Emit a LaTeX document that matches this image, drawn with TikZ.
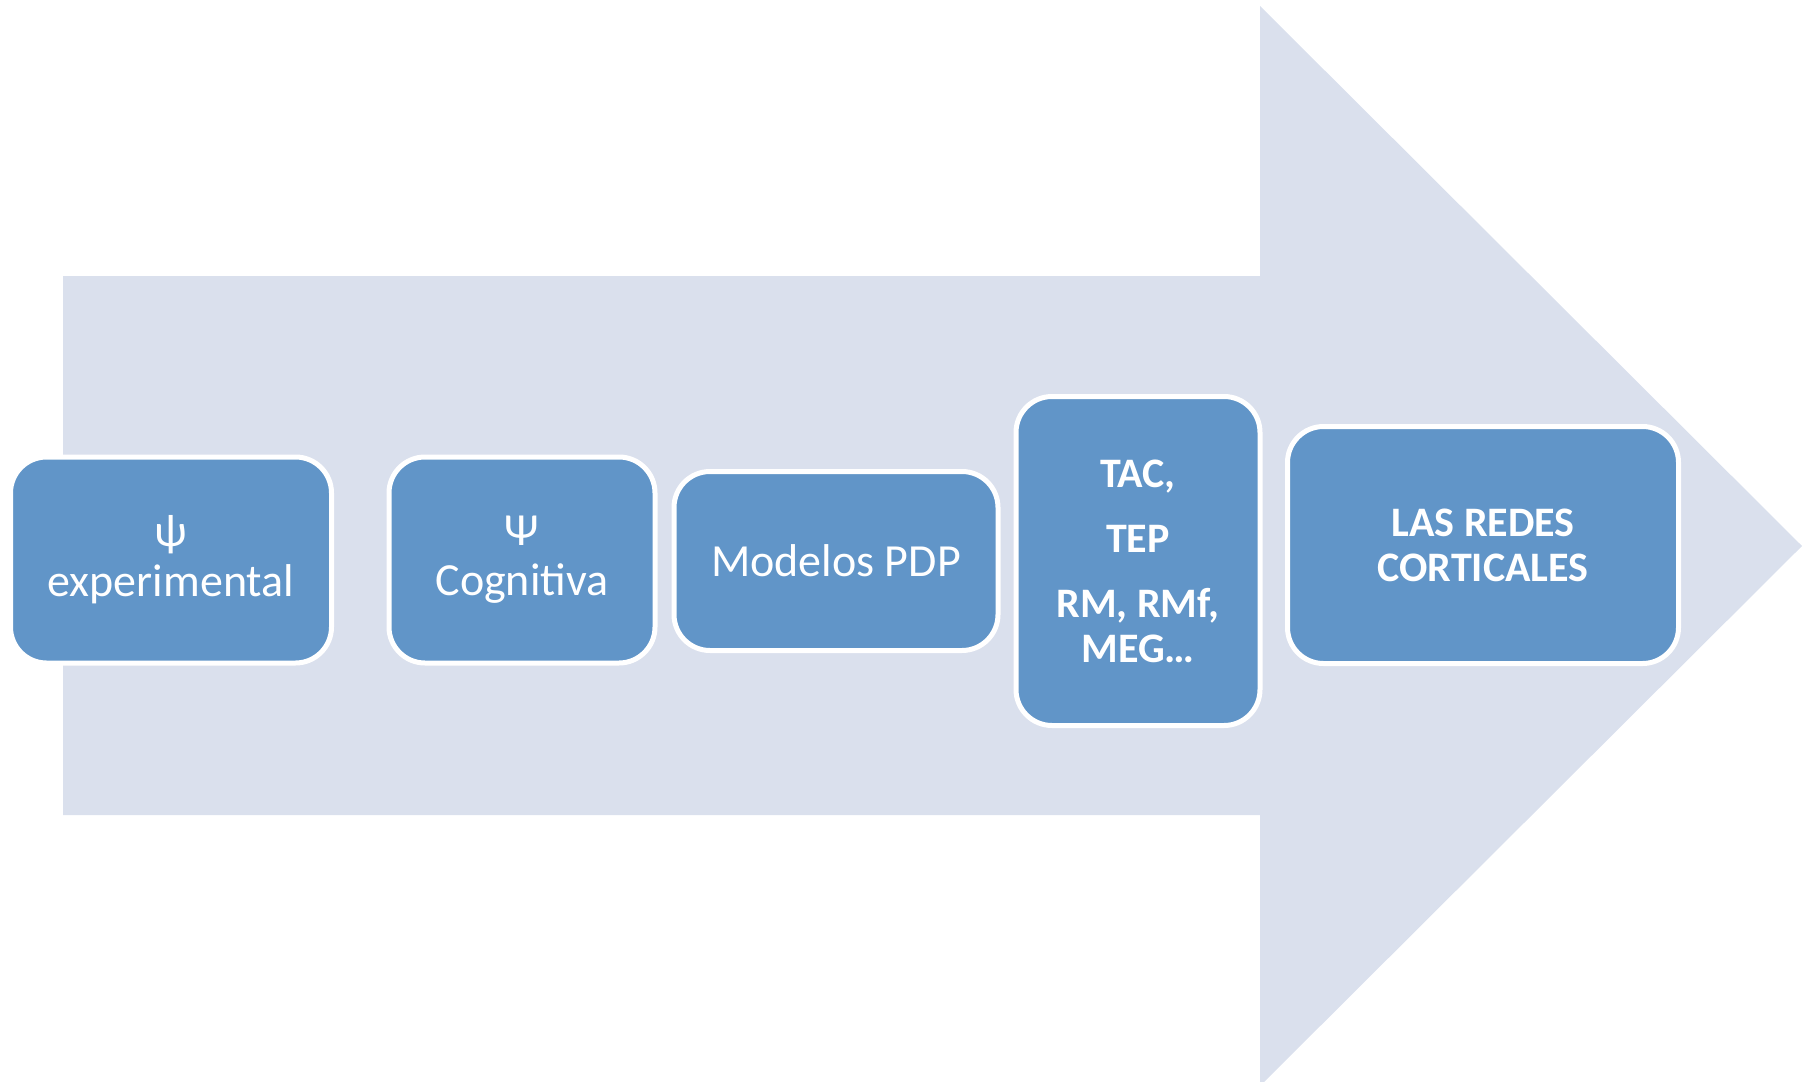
\documentclass[tikz,border=0pt]{standalone}
\usepackage{fontspec}
\setmainfont{Carlito}
\definecolor{arrowbg}{HTML}{DAE0ED}
\definecolor{boxblue}{HTML}{6195C8}
\tikzset{
  stage/.style={draw=white, line width=5pt, fill=boxblue, rounded corners=36pt,
    text=white, align=center, inner sep=0pt,
    font=\fontsize{46}{50}\selectfont},
  stagebold/.style={stage, font=\fontsize{42}{45}\selectfont\bfseries},
}
\begin{document}
\begin{tikzpicture}[x=1pt,y=-1pt]
    \useasboundingbox (0,0) rectangle (1808,1082);

    % big arrow behind
    \fill[arrowbg] (63,276) -- (1260,276) -- (1260,6) -- (1802,546)
        -- (1260,1086) -- (1260,815) -- (63,815) -- cycle;

    % stages
    \node[stage, minimum width=321pt, minimum height=206pt] (psiexp) at (171,560) {ψ\\experimental};
    \node[stage, minimum width=266pt, minimum height=206pt] (psicog) at (522,560) {Ψ\\Cognitiva};
    \node[stage, minimum width=324pt, minimum height=179pt] (pdp) at (836,561) {Modelos PDP};
    \node[stagebold, minimum width=244pt, minimum height=329pt] (imagen) at (1138,561)
        {TAC,\\[20pt]TEP\\[20pt]RM, RMf,\\MEG…};
    \node[stagebold, minimum width=391pt, minimum height=237pt] (redes) at (1483,545)
        {LAS REDES\\CORTICALES};
\end{tikzpicture}
\end{document}
